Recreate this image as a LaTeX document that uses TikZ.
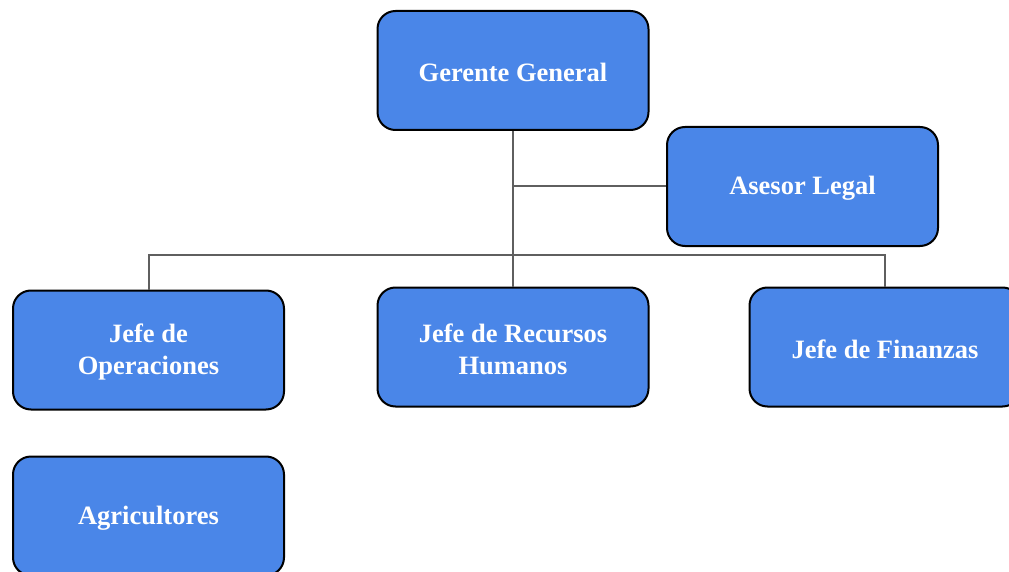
\documentclass[tikz,border=0pt]{standalone}
\usepackage{fontspec}
\setmainfont{Liberation Serif}
\begin{document}
\begin{tikzpicture}[x=1pt,y=-1pt,
  unit/.style={draw=black, line width=2pt, fill=boxblue, rounded corners=18pt,
    minimum width=271pt, minimum height=119pt, inner sep=0pt,
    text=white, font=\bfseries\fontsize{26.5}{32}\selectfont, align=center},
  label/.style={yshift=-2pt},
  link/.style={draw=linkgray, line width=2pt}]
\definecolor{boxblue}{HTML}{4A86E8}
\definecolor{linkgray}{HTML}{5F5F5F}
\useasboundingbox (0,0) rectangle (1009,572);
% units of the organisation
\node[unit] (gg)  at (513,70.5)    {};
\node[unit] (al)  at (802.5,186.5) {};
\node[unit] (op)  at (148.5,350)   {};
\node[unit] (rh)  at (513,347)     {};
\node[unit] (fi)  at (885,347)     {};
\node[unit] (ag)  at (148.5,516)   {};
% names set slightly below each box centre
\node[unit, draw=none, fill=none, label] (ggt) at (gg) {Gerente General};
\node[unit, draw=none, fill=none, label] (alt) at (al) {Asesor Legal};
\node[unit, draw=none, fill=none, label] (opt) at (op) {Jefe de\\Operaciones};
\node[unit, draw=none, fill=none, label] (rht) at (rh) {Jefe de Recursos\\Humanos};
\node[unit, draw=none, fill=none, label] (fit) at (fi) {Jefe de Finanzas};
\node[unit, draw=none, fill=none, label] (agt) at (ag) {Agricultores};
% reporting lines
\coordinate (bus) at (513,255);
\draw[link] (gg.south) -- (rh.north);
\draw[link] (gg.south |- al.west) -- (al.west);
\draw[link] (op.north) |- (bus) -| (fi.north);
\end{tikzpicture}
\end{document}
